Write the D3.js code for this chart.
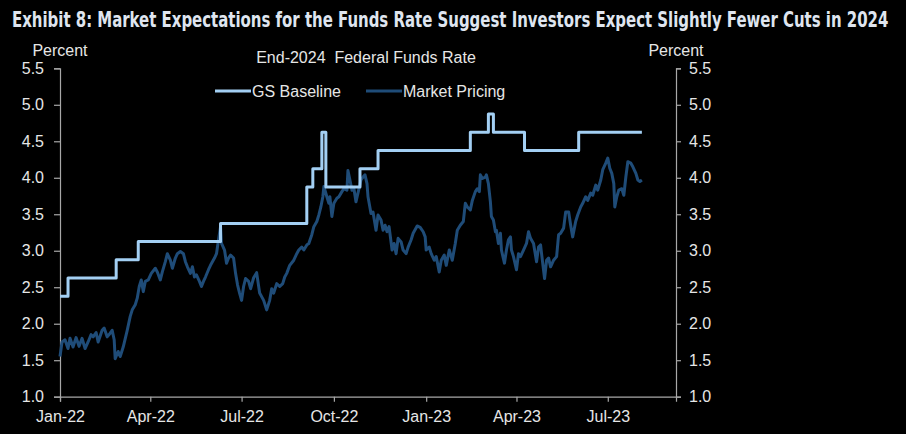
<!DOCTYPE html>
<html>
<head>
<meta charset="utf-8">
<script src="https://cdn.jsdelivr.net/npm/d3@7"></script>
<style>
  html, body { margin: 0; padding: 0; background: #000; }
  svg { display: block; }
  text { font-family: "Liberation Sans", Arial, sans-serif; fill: #e6e6e6; }
</style>
</head>
<body>
<svg id="chart" width="906" height="434"></svg>
<script>
const titleText = "Exhibit 8: Market Expectations for the Funds Rate Suggest Investors Expect Slightly Fewer Cuts in 2024";
const subtitleText = "End-2024\u00a0 Federal Funds Rate";
const axisLabel = "Percent";
const seriesNames = ["GS Baseline", "Market Pricing"];
const yTicks = [1.0, 1.5, 2.0, 2.5, 3.0, 3.5, 4.0, 4.5, 5.0, 5.5];
const xTickDates = ["2022-01-01", "2022-04-01", "2022-07-01", "2022-10-01", "2023-01-01", "2023-04-01", "2023-07-01"];
const xDomain = ["2022-01-01", "2023-09-07"];

// GS Baseline (step series)
const gsDates = ["2022-01-01","2022-01-09","2022-02-26","2022-03-20","2022-06-10","2022-09-04","2022-09-10","2022-09-19","2022-09-23","2022-10-27","2022-11-14","2023-02-14","2023-03-04","2023-03-09","2023-04-09","2023-06-02","2023-08-04"];
const gsValues = [2.375,2.625,2.875,3.125,3.375,3.875,4.125,4.625,3.875,4.125,4.375,4.625,4.875,4.625,4.375,4.625,4.625];

// Market pricing
const mktDates = [
"2022-01-01","2022-01-03","2022-01-06","2022-01-09","2022-01-11","2022-01-14","2022-01-17","2022-01-20","2022-01-23","2022-01-26","2022-01-29",
"2022-02-01","2022-02-03","2022-02-06","2022-02-08","2022-02-12","2022-02-14","2022-02-17","2022-02-20","2022-02-22","2022-02-24","2022-02-25","2022-02-28",
"2022-03-02","2022-03-05","2022-03-09","2022-03-12","2022-03-14","2022-03-17","2022-03-19","2022-03-21","2022-03-23","2022-03-25","2022-03-27","2022-03-30",
"2022-04-02","2022-04-06","2022-04-08","2022-04-11","2022-04-13","2022-04-16","2022-04-18","2022-04-21","2022-04-23","2022-04-26","2022-04-28",
"2022-05-01","2022-05-04","2022-05-06","2022-05-08","2022-05-11","2022-05-13","2022-05-15","2022-05-17","2022-05-20","2022-05-22","2022-05-24","2022-05-26","2022-05-29","2022-05-31",
"2022-06-04","2022-06-06","2022-06-08","2022-06-10","2022-06-11","2022-06-14","2022-06-16","2022-06-18","2022-06-20","2022-06-23","2022-06-25","2022-06-27","2022-06-29",
"2022-07-01","2022-07-03","2022-07-05","2022-07-08","2022-07-10","2022-07-13","2022-07-16","2022-07-19","2022-07-23","2022-07-26","2022-07-29","2022-07-31",
"2022-08-02","2022-08-05","2022-08-08","2022-08-11","2022-08-13","2022-08-15","2022-08-18","2022-08-22","2022-08-25","2022-08-27","2022-08-30",
"2022-09-01","2022-09-04","2022-09-06","2022-09-09","2022-09-11","2022-09-14","2022-09-16","2022-09-18","2022-09-20","2022-09-21","2022-09-24","2022-09-26","2022-09-27","2022-09-29",
"2022-10-01","2022-10-04","2022-10-06","2022-10-09","2022-10-11","2022-10-14","2022-10-15","2022-10-17","2022-10-19","2022-10-21","2022-10-23","2022-10-25","2022-10-28","2022-10-30",
"2022-11-01","2022-11-03","2022-11-04","2022-11-07","2022-11-09","2022-11-12","2022-11-14","2022-11-17","2022-11-19","2022-11-21","2022-11-23","2022-11-25","2022-11-28","2022-11-30",
"2022-12-02","2022-12-04","2022-12-07","2022-12-09","2022-12-12","2022-12-14","2022-12-17","2022-12-19","2022-12-23","2022-12-26","2022-12-29","2022-12-31",
"2023-01-01","2023-01-04","2023-01-06","2023-01-09","2023-01-11","2023-01-14","2023-01-16","2023-01-19","2023-01-21","2023-01-24","2023-01-27","2023-01-30",
"2023-02-01","2023-02-04","2023-02-07","2023-02-09","2023-02-11","2023-02-14","2023-02-16","2023-02-19","2023-02-21","2023-02-23","2023-02-24","2023-02-26",
"2023-03-01","2023-03-02","2023-03-04","2023-03-06","2023-03-07","2023-03-09","2023-03-11","2023-03-12","2023-03-14","2023-03-16","2023-03-17","2023-03-20","2023-03-22","2023-03-24","2023-03-26","2023-03-27","2023-03-29",
"2023-04-01","2023-04-03","2023-04-05","2023-04-08","2023-04-11","2023-04-13","2023-04-15","2023-04-18","2023-04-21","2023-04-23","2023-04-25","2023-04-26","2023-04-29",
"2023-05-01","2023-05-03","2023-05-05","2023-05-08","2023-05-11","2023-05-13","2023-05-15","2023-05-18","2023-05-20","2023-05-23","2023-05-25","2023-05-27","2023-05-30",
"2023-06-01","2023-06-04","2023-06-06","2023-06-09","2023-06-11","2023-06-14","2023-06-16","2023-06-19","2023-06-21","2023-06-24","2023-06-26","2023-06-29",
"2023-07-01","2023-07-03","2023-07-05","2023-07-07","2023-07-08","2023-07-10","2023-07-12","2023-07-15","2023-07-17","2023-07-19","2023-07-21","2023-07-24","2023-07-26","2023-07-29","2023-07-31",
"2023-08-02","2023-08-04"
];
const mktValues = [
1.55,1.75,1.78,1.66,1.80,1.68,1.81,1.69,1.80,1.66,1.75,
1.85,1.82,1.88,1.75,1.91,1.94,1.82,1.87,1.91,1.78,1.52,1.62,
1.55,1.68,1.91,2.10,2.19,2.26,2.35,2.51,2.60,2.44,2.58,2.60,
2.69,2.76,2.71,2.60,2.71,2.85,2.96,2.87,2.76,2.90,2.96,
2.99,2.96,2.85,2.78,2.69,2.78,2.64,2.67,2.58,2.51,2.58,2.64,2.74,2.80,
2.90,2.96,3.15,3.33,3.10,3.01,2.83,2.90,2.94,2.90,2.69,2.53,2.42,
2.32,2.51,2.62,2.58,2.48,2.63,2.70,2.42,2.32,2.19,2.32,2.48,
2.42,2.55,2.51,2.55,2.64,2.69,2.80,2.87,2.96,3.01,3.05,
3.01,3.08,3.10,3.22,3.33,3.40,3.49,3.60,3.74,3.88,3.74,3.65,3.74,3.47,
3.65,3.72,3.74,3.81,3.85,3.83,4.10,3.97,3.83,3.85,3.67,3.79,3.97,4.01,
4.04,3.92,3.74,3.51,3.53,3.28,3.49,3.42,3.28,3.35,3.26,3.33,3.01,3.10,
2.96,3.17,3.12,3.01,2.96,3.05,3.15,3.24,3.34,3.32,3.26,3.19,
3.01,3.05,2.96,2.87,2.92,2.71,2.87,2.94,2.80,3.01,2.87,3.10,
3.28,3.35,3.40,3.65,3.60,3.56,3.69,3.81,3.85,3.81,4.04,3.99,
4.01,4.04,3.92,3.67,3.47,3.42,3.26,3.28,3.10,3.24,3.01,2.83,3.01,3.15,3.19,3.01,2.92,
2.74,2.96,2.92,3.01,3.10,3.26,3.17,3.10,2.85,3.05,3.08,2.96,2.62,
2.87,2.90,2.78,2.87,2.92,3.22,3.24,3.31,3.53,3.53,3.35,3.19,3.40,
3.49,3.60,3.65,3.74,3.69,3.79,3.76,3.90,3.83,3.97,4.11,4.20,
4.27,4.13,4.06,3.92,3.60,3.74,3.83,3.85,3.76,4.01,4.22,4.20,4.15,4.06,3.97,
3.95,3.97
];

const colors = { gs: "#a3cff3", mkt: "#1f4c78", axis: "#a8a8a8", text: "#e6e6e6", title: "#dfe5ef" };

const parse = d3.timeParse("%Y-%m-%d");
const svg = d3.select("#chart");
const W = 906, H = 434;
const margin = { left: 60, right: 230, top: 68.3, bottom: 37.3 };

const x = d3.scaleTime()
  .domain(xDomain.map(parse))
  .range([margin.left, W - margin.right]);
const y = d3.scaleLinear()
  .domain([1, 5.5])
  .range([H - margin.bottom, margin.top]);

// Title: fit into 877px width by horizontal scaling
const titleG = svg.append("g");
const title = titleG.append("text")
  .attr("x", 0).attr("y", 0)
  .style("font-family", "'Liberation Sans Narrow', 'DejaVu Sans Condensed', 'Liberation Sans', sans-serif")
  .style("font-weight", "bold").style("font-size", "21px")
  .style("fill", colors.title)
  .text(titleText);
const natural = title.node().getComputedTextLength();
const sx = Math.min(1, 877 / natural);
titleG.attr("transform", `translate(12,27) scale(${sx},1)`);

// Axes
const fmtY = d3.format(".1f");
const leftAxis = d3.axisLeft(y).tickValues(yTicks).tickFormat(fmtY).tickSize(6).tickPadding(10);
const rightAxis = d3.axisRight(y).tickValues(yTicks).tickFormat(fmtY).tickSize(5).tickPadding(8);
const bottomAxis = d3.axisBottom(x).tickValues(xTickDates.map(parse)).tickFormat(d3.timeFormat("%b-%y")).tickSize(5).tickPadding(9);

function styleAxis(g) {
  g.select(".domain").attr("stroke", colors.axis).attr("stroke-width", 1.2);
  g.selectAll(".tick line").attr("stroke", colors.axis).attr("stroke-width", 1.2);
  g.selectAll(".tick text").style("font-family", "'Liberation Sans', Arial, sans-serif").style("font-size", "16px").attr("fill", colors.text);
}

svg.append("g").attr("transform", `translate(${x.range()[0]},0)`).call(leftAxis).call(styleAxis);
svg.append("g").attr("transform", `translate(${x.range()[1]},0)`).call(rightAxis).call(styleAxis);
svg.append("g").attr("transform", `translate(0,${y.range()[0]})`).call(bottomAxis).call(styleAxis);

// Axis titles
svg.append("text").attr("x", x.range()[0]).attr("y", 56).attr("text-anchor", "middle")
  .style("font-size", "16px").text(axisLabel);
svg.append("text").attr("x", x.range()[1]).attr("y", 56).attr("text-anchor", "middle")
  .style("font-size", "16px").text(axisLabel);

// Subtitle
svg.append("text").attr("x", 366).attr("y", 63).attr("text-anchor", "middle")
  .style("font-size", "16px").text(subtitleText);

// Lines
const gsData = gsDates.map((d, i) => ({ date: parse(d), value: gsValues[i] }));
const mktData = mktDates.map((d, i) => ({ date: parse(d), value: mktValues[i] }));

const stepLine = d3.line().x(d => x(d.date)).y(d => y(d.value)).curve(d3.curveStepAfter);
const line = d3.line().x(d => x(d.date)).y(d => y(d.value));

svg.append("path").datum(mktData)
  .attr("d", line).attr("fill", "none")
  .attr("stroke", colors.mkt).attr("stroke-width", 3).attr("stroke-linejoin", "round");

svg.append("path").datum(gsData)
  .attr("d", stepLine).attr("fill", "none")
  .attr("stroke", colors.gs).attr("stroke-width", 3).attr("stroke-linejoin", "round");

// Legend
const legend = svg.append("g");
const legendItems = [
  { name: seriesNames[0], color: colors.gs, width: 3, x0: 215 },
  { name: seriesNames[1], color: colors.mkt, width: 3, x0: 366 }
];
legendItems.forEach(it => {
  legend.append("line").attr("x1", it.x0).attr("x2", it.x0 + 36).attr("y1", 91).attr("y2", 91)
    .attr("stroke", it.color).attr("stroke-width", it.width);
  legend.append("text").attr("x", it.x0 + 37).attr("y", 97)
    .style("font-size", "16px").text(it.name);
});
</script>
</body>
</html>
